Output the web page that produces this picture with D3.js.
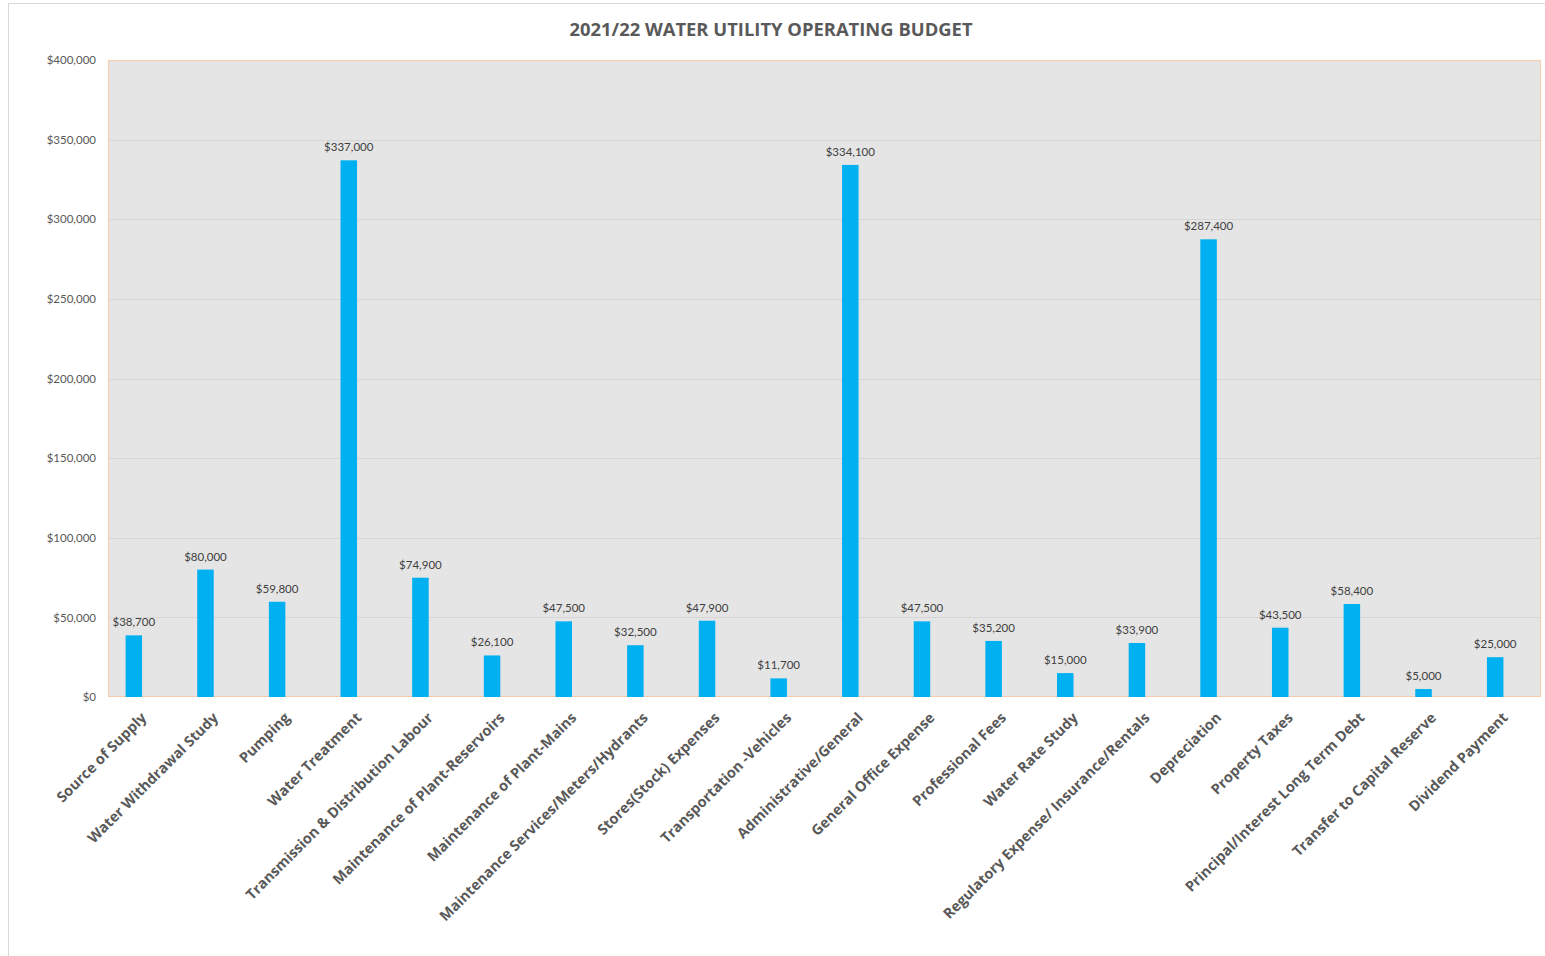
<!DOCTYPE html>
<html>
<head>
<meta charset="utf-8">
<script src="https://cdn.jsdelivr.net/npm/d3@7"></script>
<style>
  html, body { margin: 0; padding: 0; background: #ffffff; }
  svg { display: block; }
</style>
</head>
<body>
<svg id="chart" width="1545" height="956"></svg>
<script>
const title = "2021/22 WATER UTILITY OPERATING BUDGET";
const categories = [
  "Source of Supply", "Water Withdrawal Study", "Pumping", "Water Treatment",
  "Transmission & Distribution Labour", "Maintenance of Plant-Reservoirs",
  "Maintenance of Plant-Mains", "Maintenance Services/Meters/Hydrants",
  "Stores(Stock) Expenses", "Transportation -Vehicles", "Administrative/General",
  "General Office Expense", "Professional Fees", "Water Rate Study",
  "Regulatory Expense/ Insurance/Rentals", "Depreciation", "Property Taxes",
  "Principal/Interest Long Term Debt", "Transfer to Capital Reserve", "Dividend Payment"
];
const values = [38700, 80000, 59800, 337000, 74900, 26100, 47500, 32500, 47900, 11700,
                334100, 47500, 35200, 15000, 33900, 287400, 43500, 58400, 5000, 25000];
const yTicks = [0, 50000, 100000, 150000, 200000, 250000, 300000, 350000, 400000];

const svg = d3.select("#chart");
const fmt = d3.format("$,.0f");

// outer chart frame
svg.append("rect").attr("x", 8.5).attr("y", 3.5).attr("width", 1600).attr("height", 1000)
  .attr("fill", "#ffffff").attr("stroke", "#d9d9d9").attr("stroke-width", 1);

const plot = { left: 108, right: 1541, top: 60, bottom: 697 };

const y = d3.scaleLinear().domain([0, 400000]).range([plot.bottom, plot.top]);
const x = d3.scaleBand().domain(categories).range([98, 1531]).padding(0);
const barW = 16.5;

// plot background
svg.append("rect").attr("x", plot.left).attr("y", plot.top)
  .attr("width", plot.right - plot.left).attr("height", plot.bottom - plot.top)
  .attr("fill", "#e5e5e5");

// gridlines
svg.append("g").selectAll("line").data(yTicks.slice(1)).join("line")
  .attr("x1", plot.left).attr("x2", plot.right)
  .attr("y1", d => Math.round(y(d)) + 0.5).attr("y2", d => Math.round(y(d)) + 0.5)
  .attr("stroke", "#d6d6d6").attr("stroke-width", 1);

// plot border
svg.append("rect").attr("x", plot.left + 0.5).attr("y", plot.top + 0.5)
  .attr("width", plot.right - plot.left - 1).attr("height", plot.bottom - plot.top - 1)
  .attr("fill", "none").attr("stroke", "#f8cbad").attr("stroke-width", 1);

// y axis labels
const yAxis = d3.axisLeft(y).tickValues(yTicks).tickFormat(fmt).tickSize(0).tickPadding(12);
const gy = svg.append("g").attr("transform", `translate(${plot.left},0)`).call(yAxis);
gy.select(".domain").remove();
gy.selectAll("text").attr("font-family", "Lato, 'Open Sans', sans-serif")
  .attr("font-size", 11.5).attr("fill", "#595959");

// bars
svg.append("g").selectAll("rect").data(values).join("rect")
  .attr("x", (d, i) => x(categories[i]) + x.bandwidth() / 2 - barW / 2)
  .attr("y", d => y(d))
  .attr("width", barW)
  .attr("height", d => plot.bottom - y(d))
  .attr("fill", "#00b0f0");

// data labels
svg.append("g").selectAll("text").data(values).join("text")
  .attr("x", (d, i) => x(categories[i]) + x.bandwidth() / 2)
  .attr("y", d => y(d) - 9)
  .attr("text-anchor", "middle")
  .attr("font-family", "Lato, 'Open Sans', sans-serif")
  .attr("font-size", 11.5).attr("fill", "#404040")
  .text(d => fmt(d));

// x axis category labels
const xAxis = d3.axisBottom(x).tickSize(0).tickPadding(0);
const gx = svg.append("g").attr("transform", `translate(0,${plot.bottom})`).call(xAxis);
gx.select(".domain").remove();
gx.selectAll(".tick text")
  .attr("font-family", "'Open Sans', sans-serif")
  .attr("font-weight", 700)
  .attr("font-size", 14.5)
  .attr("fill", "#595959")
  .attr("text-anchor", "end")
  .attr("y", 0).attr("dy", "0.35em")
  .attr("transform", "translate(10,18) rotate(-45)");

// title
svg.append("text").attr("x", 771).attr("y", 36)
  .attr("text-anchor", "middle")
  .attr("font-family", "'Open Sans', sans-serif")
  .attr("font-weight", 700).attr("font-size", 18.4)
  .attr("fill", "#595959")
  .text(title);
</script>
</body>
</html>
